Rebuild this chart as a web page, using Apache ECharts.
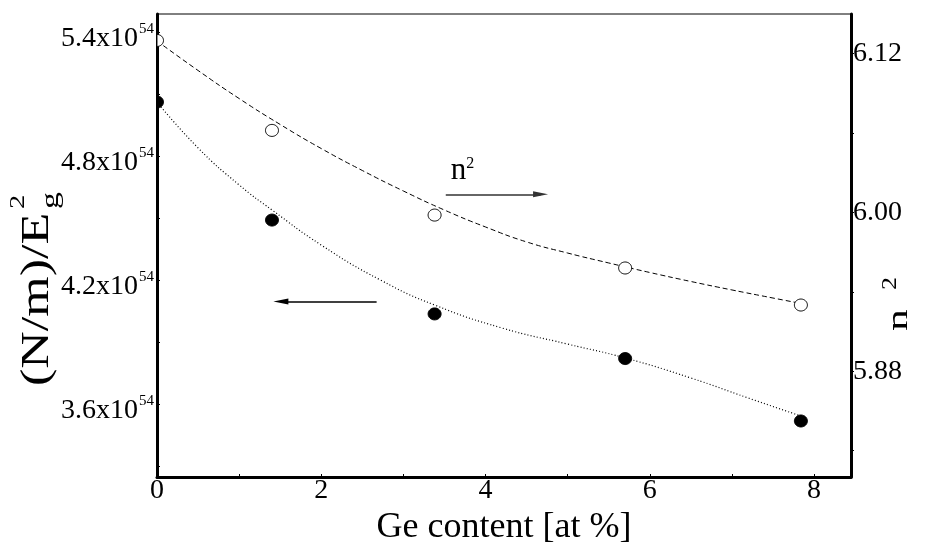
<!DOCTYPE html>
<html>
<head>
<meta charset="utf-8">
<script src="https://cdn.jsdelivr.net/npm/echarts@6/dist/echarts.min.js"></script>
<style>
  html, body { margin: 0; padding: 0; background: #fff; }
  #chart { width: 928px; height: 542px; }
</style>
</head>
<body>
<div id="chart"></div>
<script>
// Ge content of the samples [at %]
const geContent = [0, 1.4, 3.38, 5.7, 7.84];
// (N/m)/Eg^2 in units of 10^54 (filled circles, left axis)
const nmOverEg2 = [5.064, 4.493, 4.039, 3.823, 3.521];
// n^2 (open circles, right axis)
const nSquared = [6.130, 6.062, 5.998, 5.958, 5.930];

// fitted curve through (N/m)/Eg^2 (dotted)
const nmFitX = [0, 0.5, 1.0, 1.4, 2.0, 2.72, 3.38, 4.2, 5.0, 5.7, 6.5, 7.2, 7.84];
const nmFitY = [5.064, 4.842, 4.663, 4.542, 4.372, 4.203, 4.082, 3.971, 3.893, 3.826, 3.729, 3.632, 3.545];
// fitted curve through n^2 (dashed)
const nFitX = [0, 0.5, 1.0, 1.5, 2.0, 2.5, 3.0, 3.5, 4.0, 4.5, 5.0, 5.5, 6.0, 6.5, 7.0, 7.5, 7.84];
const nFitY = [6.1296, 6.1073, 6.0861, 6.0665, 6.0483, 6.0317, 6.0162, 6.0018, 5.9890, 5.9777,
               5.9693, 5.9618, 5.9546, 5.9478, 5.9414, 5.9353, 5.9312];

// axis ticks and labels
const xTicks = [0, 1, 2, 3, 4, 5, 6, 7, 8];
const xLabels = [0, 2, 4, 6, 8];
const leftTicks = [3.3, 3.6, 3.9, 4.2, 4.5, 4.8, 5.1, 5.4];
const leftLabels = [3.6, 4.2, 4.8, 5.4];
const rightTicks = [5.82, 5.88, 5.94, 6.00, 6.06, 6.12];
const rightLabels = [5.88, 6.00, 6.12];

// arrow annotations: [x from, x to, y]
const leftArrow = [2.674, 1.508, 4.099];
const rightArrow = [3.516, 4.670, 6.0137];

const serif = "'Liberation Serif', 'Times New Roman', serif";
const pairs = (xs, ys) => xs.map((x, i) => [x, ys[i]]);

// circle markers, cut off at the plot frame
function circleItem(fill) {
  return function (params, api) {
    const p = api.coord([api.value(0), api.value(1)]);
    const cs = params.coordSys;
    const pts = [];
    for (let k = 0; k < 48; k++) {
      const a = (k / 48) * Math.PI * 2;
      pts.push([
        Math.min(cs.x + cs.width, Math.max(cs.x, p[0] + 6.5 * Math.cos(a))),
        Math.min(cs.y + cs.height, Math.max(cs.y, p[1] + 6 * Math.sin(a)))
      ]);
    }
    return {
      type: 'polygon',
      shape: { points: pts },
      style: { fill: fill, stroke: '#000', lineWidth: 1 }
    };
  };
}

function arrowLine(arrow, color, extra) {
  return Object.assign({
    silent: true, animation: false,
    symbol: ['none', 'triangle'], symbolSize: [6, 15],
    lineStyle: { color: color, width: 1.6, type: 'solid' },
    label: { show: false },
    emphasis: { disabled: true },
    data: [[{ coord: [arrow[0], arrow[2]] }, { coord: [arrow[1], arrow[2]] }]]
  }, extra || {});
}

const chart = echarts.init(document.getElementById('chart'));

chart.setOption({
  animation: false,
  backgroundColor: '#fff',
  grid: {
    left: 157, right: 77, top: 14, bottom: 65,
    show: true, borderColor: '#000', borderWidth: 1,
    containLabel: false, outerBoundsMode: 'none'
  },
  xAxis: {
    type: 'value', min: 0, max: 8.45,
    axisLine: { show: true, lineStyle: { color: '#000', width: 3 } },
    axisTick: { show: true, inside: true, length: 3, customValues: xTicks, lineStyle: { color: '#000', width: 1 } },
    axisLabel: { customValues: xLabels, color: '#000', fontFamily: serif, fontSize: 28, margin: 0 },
    splitLine: { show: false },
    name: 'Ge content [at %]', nameLocation: 'middle', nameGap: 30,
    nameTextStyle: { color: '#000', fontFamily: serif, fontSize: 36 }
  },
  yAxis: [
    {
      type: 'value', position: 'left', min: 3.25, max: 5.49,
      axisLine: { show: true, lineStyle: { color: '#000', width: 3 } },
      axisTick: { show: true, inside: true, length: 3, customValues: leftTicks, lineStyle: { color: '#000', width: 1 } },
      axisLabel: {
        customValues: leftLabels, margin: 3, padding: [10, 0, 0, 0],
        formatter: v => '{s|54}\n{m|' + v.toFixed(1) + 'x10}',
        rich: {
          s: { fontFamily: serif, fontSize: 15, lineHeight: 2, color: '#000' },
          m: { fontFamily: serif, fontSize: 28, lineHeight: 18, color: '#000', padding: [0, 16, 0, 0] }
        }
      },
      splitLine: { show: false }
    },
    {
      type: 'value', position: 'right', min: 5.80, max: 6.15,
      axisLine: { show: true, lineStyle: { color: '#000', width: 3 } },
      axisTick: { show: true, inside: false, length: 3, customValues: rightTicks, lineStyle: { color: '#000', width: 1 } },
      axisLabel: {
        customValues: rightLabels, margin: 2, color: '#000', fontFamily: serif, fontSize: 28,
        formatter: v => v.toFixed(2)
      },
      splitLine: { show: false }
    }
  ],
  series: [
    {
      name: 'n2 fit', type: 'line', yAxisIndex: 1, smooth: true, symbol: 'none', silent: true,
      lineStyle: { color: '#000', width: 1, type: [5, 3] },
      data: pairs(nFitX, nFitY), z: 2,
      markLine: arrowLine(rightArrow, '#333', {
        label: {
          show: true, position: 'insideStartTop', distance: [5, 8],
          formatter: () => '{n|n}{s|2}',
          rich: {
            n: { fontFamily: serif, fontSize: 31, lineHeight: 31, color: '#000', verticalAlign: 'bottom' },
            s: { fontFamily: serif, fontSize: 16, color: '#000', verticalAlign: 'top', padding: [0, 0, 14, 0] }
          }
        }
      })
    },
    {
      name: 'NmEg fit', type: 'line', yAxisIndex: 0, smooth: true, symbol: 'none', silent: true,
      lineStyle: { color: '#000', width: 1.2, type: [1, 2.2] },
      data: pairs(nmFitX, nmFitY), z: 2,
      markLine: arrowLine(leftArrow, '#000')
    },
    {
      name: 'n2', type: 'custom', coordinateSystem: 'cartesian2d', yAxisIndex: 1,
      silent: true, z: 3,
      encode: { x: 0, y: 1 },
      renderItem: circleItem('#fff'),
      data: pairs(geContent, nSquared)
    },
    {
      name: 'NmEg', type: 'custom', coordinateSystem: 'cartesian2d', yAxisIndex: 0,
      silent: true, z: 3,
      encode: { x: 0, y: 1 },
      renderItem: circleItem('#000'),
      data: pairs(geContent, nmOverEg2)
    }
  ],
  graphic: [
    {
      type: 'group', x: 37, y: 386, rotation: Math.PI / 2, silent: true,
      children: [
        { type: 'text', x: 0, y: 0, scaleX: 1.3, style: { text: '(N/m)/E', font: '40px ' + serif, fill: '#000', align: 'left', verticalAlign: 'middle' } },
        { type: 'text', x: 177, y: -19, scaleX: 1.3, style: { text: '2', font: '22px ' + serif, fill: '#000', align: 'left', verticalAlign: 'middle' } },
        { type: 'text', x: 177, y: 14, scaleX: 1.3, style: { text: 'g', font: '26px ' + serif, fill: '#000', align: 'left', verticalAlign: 'middle' } }
      ]
    },
    {
      type: 'group', x: 899, y: 331, rotation: Math.PI / 2, silent: true,
      children: [
        { type: 'text', x: 0, y: 0, scaleX: 1.45, style: { text: 'n', font: '30px ' + serif, fill: '#000', align: 'left', verticalAlign: 'middle' } },
        { type: 'text', x: 41, y: -8, scaleX: 1.3, style: { text: '2', font: '20px ' + serif, fill: '#000', align: 'left', verticalAlign: 'middle' } }
      ]
    }
  ]
});
</script>
</body>
</html>
